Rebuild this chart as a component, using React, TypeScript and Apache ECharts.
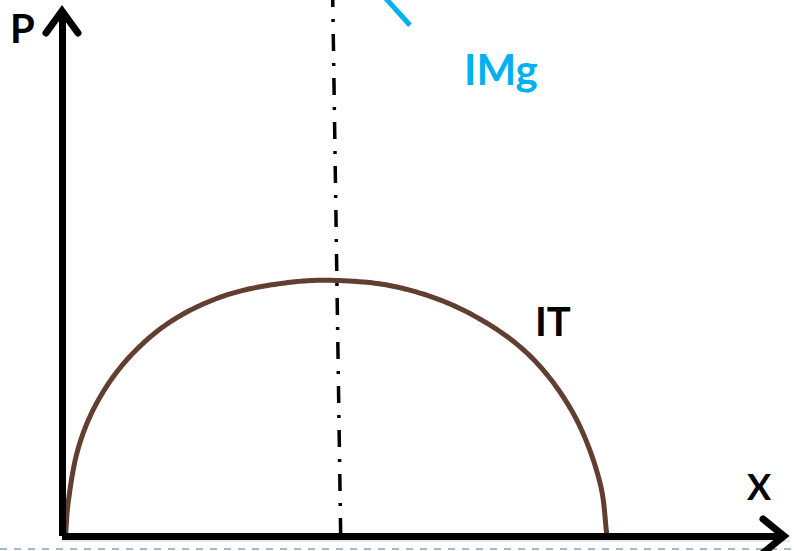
import React, { useEffect, useRef } from "react";
import * as echarts from "echarts";

// Total revenue curve (IT) (x: quantity units 0..100, y: value units 0..100)
const itX = [0.48, 0.87, 2.26, 4.81, 8.96, 14.96, 22.81, 32.0, 38.23, 46.4, 55.54, 64.4, 70.78, 74.52, 75.48];
const itY = [0, 6.46, 16.73, 25.29, 33.46, 40.68, 45.82, 48.29, 48.57, 47.34, 42.97, 34.79, 23.38, 10.08, 0];

// Vertical dash-dot line through the maximum of IT
const peakLineX = [37.5, 38.6];
const peakLineY = [101.9, 0];

// Visible piece of the marginal revenue line (IMg)
const imgX = [43.8, 48.2];
const imgY = [103.8, 97.1];

// Texts
const axisNames = ["P", "X"];
const seriesNames = ["IT", "IMg"];

const zip = (xs: number[], ys: number[]) => xs.map((x, i) => [x, ys[i]]);

// Centripetal Catmull-Rom through pixel points (rendering only)
function smoothPath(pts: number[][], samples: number): number[][] {
  const n = pts.length;
  if (n < 3) return pts;
  const ext = [
    [2 * pts[0][0] - pts[1][0], 2 * pts[0][1] - pts[1][1]],
    ...pts,
    [2 * pts[n - 1][0] - pts[n - 2][0], 2 * pts[n - 1][1] - pts[n - 2][1]],
  ];
  const tj = (a: number[], b: number[]) => Math.max(Math.pow(Math.hypot(b[0] - a[0], b[1] - a[1]), 0.5), 1e-4);
  const lerp = (a: number[], b: number[], ta: number, tb: number, t: number) => {
    const u = (t - ta) / (tb - ta);
    return [a[0] + (b[0] - a[0]) * u, a[1] + (b[1] - a[1]) * u];
  };
  const out: number[][] = [];
  for (let i = 1; i < ext.length - 2; i++) {
    const p0 = ext[i - 1], p1 = ext[i], p2 = ext[i + 1], p3 = ext[i + 2];
    const t0 = 0;
    const t1 = t0 + tj(p0, p1);
    const t2 = t1 + tj(p1, p2);
    const t3 = t2 + tj(p2, p3);
    for (let k = i === 1 ? 0 : 1; k <= samples; k++) {
      const t = t1 + ((t2 - t1) * k) / samples;
      const a1 = lerp(p0, p1, t0, t1, t);
      const a2 = lerp(p1, p2, t1, t2, t);
      const a3 = lerp(p2, p3, t2, t3, t);
      const b1 = lerp(a1, a2, t0, t2, t);
      const b2 = lerp(a2, a3, t1, t3, t);
      out.push(lerp(b1, b2, t1, t2, t));
    }
  }
  return out;
}

export default function App() {
  const ref = useRef<HTMLDivElement>(null);

  useEffect(() => {
    if (!ref.current) return;
    const chart = echarts.init(ref.current, null, { renderer: "svg" });
    const font = "Lato, 'Open Sans', sans-serif";
    const itData = zip(itX, itY);
    chart.setOption({
      animation: false,
      backgroundColor: "#ffffff",
      grid: { left: 62, right: 10, top: 10, bottom: 15 },
      xAxis: {
        type: "value",
        min: 0,
        max: 100,
        z: 5,
        axisLine: { show: true, onZero: false, lineStyle: { color: "#000", width: 7, cap: "butt" } },
        axisTick: { show: false },
        axisLabel: { show: false },
        splitLine: { show: false },
      },
      yAxis: {
        type: "value",
        min: 0,
        max: 100,
        z: 5,
        axisLine: { show: true, onZero: false, lineStyle: { color: "#000", width: 7, cap: "butt" } },
        axisTick: { show: false },
        axisLabel: { show: false },
        splitLine: { show: false },
      },
      series: [
        {
          name: "peak",
          type: "line",
          data: zip(peakLineX, peakLineY),
          showSymbol: false,
          clip: false,
          z: 1,
          lineStyle: { color: "#000", width: 3.5, type: [17, 12, 3, 12], dashOffset: 10, cap: "butt" },
        },
        {
          name: seriesNames[0],
          type: "custom",
          coordinateSystem: "cartesian2d",
          data: itData,
          encode: { x: 0, y: 1 },
          clip: false,
          z: 2,
          renderItem: (params: any, api: any) => {
            if (params.dataIndex !== 0) return null;
            const pix = itData.map((d) => api.coord(d));
            return {
              type: "polyline",
              shape: { points: smoothPath(pix, 24) },
              style: { stroke: "#613E30", lineWidth: 5, fill: null, lineJoin: "round", lineCap: "butt" },
            };
          },
        },
        {
          name: seriesNames[1],
          type: "line",
          data: zip(imgX, imgY),
          showSymbol: false,
          clip: false,
          z: 2,
          lineStyle: { color: "#00B0F0", width: 5, cap: "butt" },
        },
      ],
      graphic: [
        {
          type: "polyline",
          z: 10,
          shape: { points: [[46, 33], [62, 11], [78, 33]] },
          style: { stroke: "#000", lineWidth: 7, fill: null, lineCap: "round", lineJoin: "miter" },
        },
        {
          type: "polyline",
          z: 10,
          shape: { points: [[763, 519], [784, 536], [763, 553]] },
          style: { stroke: "#000", lineWidth: 7, fill: null, lineCap: "round", lineJoin: "miter" },
        },
        {
          type: "line",
          z: 1,
          shape: { x1: 62, y1: 541, x2: 790, y2: 541 },
          style: { stroke: "#cfcfcf", lineWidth: 1 },
        },
        {
          type: "line",
          z: 1,
          shape: { x1: 0, y1: 549, x2: 794, y2: 549 },
          style: { stroke: "#A7B9C9", lineWidth: 2, lineDash: [7, 7] },
        },
        {
          type: "text",
          z: 10,
          x: 10,
          y: 28,
          style: { text: axisNames[0], fill: "#000", font: `bold 40px ${font}`, textAlign: "left", textVerticalAlign: "middle" },
        },
        {
          type: "text",
          z: 10,
          x: 747,
          y: 486,
          style: { text: axisNames[1], fill: "#000", font: `bold 36px ${font}`, textAlign: "left", textVerticalAlign: "middle" },
        },
        {
          type: "text",
          z: 10,
          x: 535,
          y: 321,
          style: { text: seriesNames[0], fill: "#000", font: `bold 40px ${font}`, textAlign: "left", textVerticalAlign: "middle" },
        },
        {
          type: "text",
          z: 10,
          x: 464,
          y: 69,
          style: { text: seriesNames[1], fill: "#00B0F0", font: `bold 42px ${font}`, textAlign: "left", textVerticalAlign: "middle" },
        },
      ],
    });
    return () => chart.dispose();
  }, []);

  return (
    <div
      ref={ref}
      style={{ position: "fixed", left: 0, top: 0, width: 794, height: 551, background: "#fff" }}
    />
  );
}
